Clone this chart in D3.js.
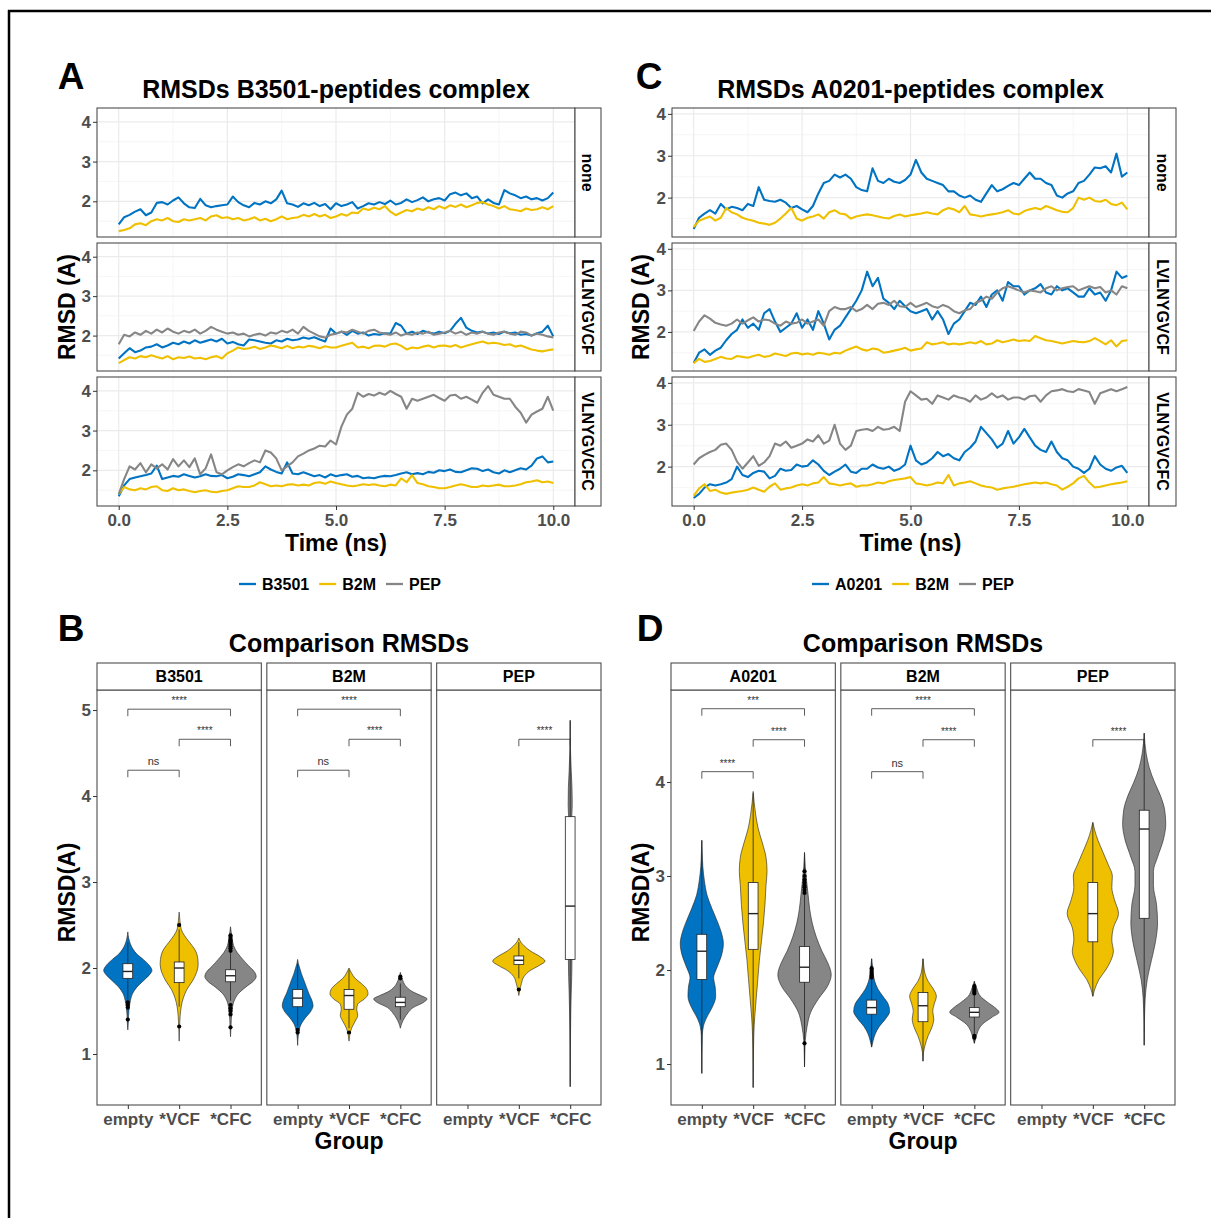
<!DOCTYPE html>
<html><head><meta charset="utf-8">
<script src="https://cdn.jsdelivr.net/npm/d3@7"></script>
<style>body{margin:0;background:#fff}svg{display:block}</style>
</head><body><script>
// ---------------- DATA ----------------
const timeTicks = [0, 2.5, 5, 7.5, 10];
const peptideFacets = ["none", "LVLNYGVCF", "VLNYGVCFC"];
const seriesA = ["B3501", "B2M", "PEP"];
const seriesC = ["A0201", "B2M", "PEP"];
const lineYTicks = [2, 3, 4];

// RMSD time series, 0..10 ns evenly spaced (0.125 ns)
const A_none_B3501 = [1.42,1.60,1.66,1.74,1.80,1.65,1.72,1.96, 1.98,1.92,2.02,2.10,1.95,1.85,1.83,2.06, 1.90,1.85,1.88,1.90,1.92,2.12,1.98,1.90, 1.85,1.96,1.92,2.00,1.95,2.05,2.27,1.95, 1.92,1.86,1.95,1.90,1.96,1.88,1.93,1.80, 1.95,1.88,1.92,1.98,1.82,1.88,1.95,1.92, 1.98,1.93,2.02,1.92,1.96,2.05,1.98,2.03, 2.10,2.00,2.05,2.08,2.02,2.18,2.22,2.15, 2.20,2.08,2.12,1.95,2.05,1.96,1.92,2.28, 2.20,2.15,2.08,2.12,2.05,2.08,2.02,2.08, 2.22];
const A_none_B2M = [1.25,1.28,1.32,1.42,1.45,1.40,1.50,1.55, 1.52,1.58,1.50,1.48,1.55,1.52,1.55,1.58, 1.52,1.62,1.65,1.58,1.60,1.55,1.58,1.52, 1.55,1.60,1.52,1.56,1.50,1.55,1.62,1.55, 1.58,1.60,1.66,1.62,1.68,1.62,1.66,1.58, 1.62,1.68,1.64,1.72,1.70,1.82,1.78,1.84, 1.80,1.88,1.74,1.65,1.72,1.78,1.75,1.82, 1.78,1.85,1.80,1.88,1.82,1.90,1.86,1.92, 1.85,1.90,1.96,1.98,1.92,1.88,1.82,1.88, 1.80,1.78,1.75,1.82,1.78,1.80,1.85,1.80, 1.88];
const A_lv_B3501 = [1.42,1.55,1.68,1.58,1.62,1.70,1.72,1.78, 1.70,1.75,1.82,1.78,1.85,1.80,1.88,1.82, 1.86,1.90,1.85,1.92,1.80,1.84,1.78,1.75, 1.90,1.88,1.85,1.82,1.80,1.88,1.85,1.92, 1.88,1.90,1.95,1.92,1.96,1.90,1.85,2.18, 2.05,2.10,2.02,2.12,2.05,2.08,2.00,2.04, 2.02,2.06,2.05,2.32,2.25,2.05,2.10,2.04, 2.12,2.08,2.05,2.10,2.06,2.12,2.30,2.45, 2.20,2.12,2.08,2.10,2.05,2.08,2.04,2.10, 2.06,2.08,2.02,2.04,2.00,2.06,2.10,2.25, 1.98];
const A_lv_B2M = [1.30,1.38,1.45,1.42,1.48,1.45,1.50,1.46, 1.42,1.48,1.40,1.45,1.43,1.47,1.42,1.44, 1.40,1.45,1.48,1.42,1.55,1.62,1.70,1.66, 1.68,1.72,1.66,1.70,1.75,1.72,1.68,1.74, 1.68,1.72,1.70,1.74,1.72,1.68,1.73,1.70, 1.70,1.74,1.78,1.82,1.70,1.72,1.68,1.74, 1.75,1.72,1.78,1.80,1.74,1.65,1.70,1.68, 1.72,1.75,1.70,1.74,1.75,1.72,1.76,1.70, 1.74,1.78,1.82,1.85,1.80,1.82,1.80,1.76, 1.78,1.72,1.75,1.70,1.65,1.62,1.60,1.63, 1.65];
const A_lv_PEP = [1.78,2.02,1.98,2.08,2.02,2.12,2.05,2.15, 2.08,2.18,2.10,2.05,2.12,2.08,2.15,2.05, 2.12,2.22,2.15,2.10,2.05,2.08,2.02,2.05, 1.98,2.02,2.05,2.00,2.08,2.05,2.12,2.08, 2.15,2.05,2.22,2.12,2.05,1.98,1.95,2.02, 2.05,2.10,2.08,2.15,2.10,2.05,2.12,2.15, 2.08,2.05,2.02,2.08,2.00,2.05,2.02,2.08, 2.05,2.10,2.02,2.05,2.08,2.12,2.05,2.10, 2.02,2.08,2.05,2.10,2.05,2.02,2.08,2.10, 2.05,2.02,2.10,2.08,2.00,2.05,2.02,1.98, 1.95];
const A_vl_B3501 = [1.35,1.62,1.78,1.82,1.85,1.88,1.92,2.12, 1.78,1.82,1.86,1.84,1.90,1.86,1.82,1.85, 1.90,1.86,1.85,1.88,1.80,1.84,1.90,1.88, 1.85,1.90,1.95,2.10,2.02,1.96,1.92,2.20, 1.92,1.90,1.95,1.90,1.85,1.88,1.82,1.90, 1.85,1.88,1.90,1.84,1.86,1.80,1.82,1.80, 1.84,1.86,1.85,1.88,1.92,1.95,1.90,1.93, 1.90,1.96,1.94,2.00,1.98,2.02,1.96,1.95, 2.00,2.05,2.04,1.98,2.02,1.95,1.92,2.00, 1.95,2.00,2.05,2.02,2.12,2.30,2.35,2.20, 2.22];
const A_vl_B2M = [1.40,1.58,1.52,1.50,1.55,1.52,1.58,1.60, 1.50,1.48,1.55,1.50,1.52,1.48,1.45,1.48, 1.50,1.46,1.45,1.48,1.50,1.55,1.60,1.58, 1.58,1.62,1.70,1.65,1.60,1.62,1.60,1.64, 1.65,1.62,1.64,1.62,1.68,1.70,1.66,1.72, 1.68,1.65,1.62,1.60,1.62,1.65,1.63,1.65, 1.62,1.60,1.64,1.62,1.80,1.70,1.88,1.68, 1.65,1.60,1.58,1.55,1.55,1.58,1.62,1.65, 1.62,1.58,1.58,1.62,1.60,1.62,1.64,1.60, 1.60,1.62,1.65,1.70,1.72,1.75,1.70,1.72, 1.68];
const A_vl_PEP = [1.40,1.78,2.10,2.02,2.18,1.95,2.15,2.05, 2.15,2.02,2.28,2.10,2.25,2.08,2.30,1.90, 2.05,2.40,1.95,1.90,2.00,2.08,2.15,2.10, 2.18,2.25,2.20,2.50,2.45,2.30,2.00,2.10, 2.20,2.35,2.42,2.50,2.55,2.62,2.60,2.75, 2.65,3.10,3.40,3.55,3.95,3.85,3.92,3.88, 3.95,3.90,4.00,3.92,3.85,3.55,3.80,3.75, 3.80,3.85,3.90,3.82,3.75,3.88,3.90,3.80, 3.85,3.78,3.70,3.95,4.12,3.90,3.85,3.80, 3.80,3.60,3.45,3.20,3.40,3.48,3.55,3.85, 3.50];

const C_none_A0201 = [1.25,1.52,1.62,1.70,1.62,1.85,1.72,1.78, 1.75,1.70,1.85,1.80,2.25,1.95,1.92,1.90, 1.95,1.88,1.75,1.80,1.72,1.65,1.80,2.10, 2.35,2.40,2.55,2.48,2.55,2.45,2.25,2.18, 2.15,2.70,2.40,2.35,2.45,2.38,2.35,2.42, 2.55,2.90,2.60,2.45,2.40,2.35,2.30,2.15, 2.15,2.05,2.00,2.05,1.95,1.90,2.10,2.30, 2.15,2.20,2.28,2.35,2.30,2.45,2.60,2.45, 2.45,2.35,2.30,2.05,2.00,2.10,2.15,2.35, 2.40,2.55,2.72,2.70,2.75,2.60,3.05,2.50, 2.60];
const C_none_B2M = [1.30,1.45,1.50,1.55,1.45,1.52,1.75,1.65, 1.60,1.52,1.48,1.45,1.40,1.38,1.35,1.40, 1.50,1.62,1.75,1.50,1.45,1.52,1.55,1.60, 1.50,1.65,1.70,1.62,1.60,1.50,1.55,1.58, 1.60,1.58,1.55,1.52,1.50,1.56,1.60,1.55, 1.58,1.60,1.62,1.65,1.62,1.60,1.70,1.75, 1.72,1.65,1.80,1.60,1.58,1.55,1.58,1.60, 1.62,1.65,1.70,1.62,1.60,1.68,1.72,1.75, 1.72,1.80,1.75,1.70,1.66,1.65,1.75,2.00, 1.95,2.00,1.92,1.90,1.95,1.85,1.82,1.88, 1.72];
const C_lv_A0201 = [1.25,1.50,1.58,1.45,1.55,1.62,1.80,1.95, 2.05,2.30,2.10,2.20,2.05,2.45,2.55,2.25, 2.00,2.10,2.20,2.45,2.10,2.30,2.05,2.50, 2.20,1.82,2.05,2.15,2.35,2.55,2.75,3.00, 3.45,3.10,3.30,2.80,2.70,2.55,2.75,2.62, 2.50,2.45,2.50,2.55,2.30,2.50,2.30,1.95, 2.20,2.30,2.50,2.70,2.65,2.85,2.60,2.90, 3.00,2.75,3.20,3.10,3.10,2.90,3.00,3.05, 3.15,2.95,2.90,3.10,3.00,3.05,2.95,2.85, 2.85,3.05,2.90,2.95,2.75,3.00,3.45,3.30, 3.35];
const C_lv_B2M = [1.25,1.35,1.28,1.30,1.35,1.40,1.36,1.35, 1.42,1.40,1.38,1.42,1.45,1.40,1.42,1.48, 1.45,1.42,1.48,1.50,1.46,1.48,1.45,1.50, 1.48,1.45,1.50,1.48,1.55,1.60,1.65,1.58, 1.55,1.60,1.58,1.50,1.52,1.55,1.58,1.62, 1.55,1.58,1.60,1.75,1.70,1.72,1.75,1.70, 1.72,1.70,1.72,1.75,1.72,1.78,1.70,1.72, 1.80,1.75,1.78,1.82,1.78,1.80,1.78,1.90, 1.85,1.80,1.78,1.75,1.72,1.75,1.78,1.76, 1.75,1.78,1.85,1.78,1.70,1.80,1.65,1.78, 1.80];
const C_lv_PEP = [2.02,2.25,2.40,2.32,2.22,2.18,2.15,2.20, 2.30,2.20,2.28,2.35,2.25,2.30,2.28,2.20, 2.15,2.25,2.20,2.22,2.30,2.20,2.25,2.30, 2.15,2.50,2.60,2.55,2.55,2.60,2.50,2.55, 2.65,2.55,2.68,2.70,2.65,2.75,2.62,2.60, 2.70,2.60,2.65,2.70,2.62,2.58,2.65,2.60, 2.50,2.45,2.52,2.55,2.70,2.75,2.85,2.80, 2.95,3.05,3.10,3.05,3.00,2.95,3.00,2.98, 2.95,3.05,3.10,3.00,3.05,3.08,3.10,3.00, 3.05,3.10,3.05,3.08,2.95,3.00,2.90,3.10, 3.05];
const C_vl_A0201 = [1.25,1.35,1.50,1.58,1.55,1.58,1.62,1.70, 2.00,1.80,1.75,1.85,1.90,1.88,1.72,1.78, 1.95,1.90,1.92,2.05,2.00,2.02,2.15,2.05, 1.90,1.80,1.88,1.95,2.05,1.88,1.85,1.95, 1.95,2.05,1.98,1.95,2.00,1.90,1.95,2.05, 2.50,2.15,2.05,2.10,2.20,2.35,2.25,2.30, 2.20,2.15,2.35,2.45,2.60,2.95,2.80,2.65, 2.45,2.55,2.85,2.55,2.70,2.90,2.70,2.50, 2.40,2.35,2.60,2.35,2.20,2.15,2.00,1.95, 1.85,1.95,2.25,2.05,1.95,1.90,1.98,2.02, 1.85];
const C_vl_B2M = [1.30,1.48,1.58,1.42,1.45,1.38,1.35,1.38, 1.40,1.42,1.45,1.50,1.45,1.40,1.52,1.60, 1.45,1.48,1.50,1.55,1.58,1.55,1.60,1.62, 1.75,1.60,1.58,1.55,1.58,1.60,1.52,1.55, 1.55,1.58,1.62,1.60,1.65,1.68,1.70,1.72, 1.75,1.60,1.58,1.55,1.58,1.62,1.60,1.80, 1.55,1.60,1.62,1.65,1.60,1.55,1.52,1.50, 1.45,1.48,1.50,1.52,1.55,1.58,1.60,1.62, 1.60,1.62,1.58,1.55,1.45,1.52,1.60,1.72, 1.78,1.62,1.50,1.52,1.55,1.58,1.60,1.62, 1.65];
const C_vl_PEP = [2.05,2.20,2.28,2.35,2.40,2.52,2.55,2.40, 2.12,1.95,2.10,2.25,2.02,2.10,2.25,2.55, 2.50,2.60,2.45,2.50,2.55,2.65,2.60,2.75, 2.55,2.62,3.00,2.55,2.40,2.50,2.85,2.88, 2.90,2.85,2.95,2.88,2.90,2.95,2.85,3.55, 3.80,3.70,3.60,3.62,3.50,3.70,3.65,3.60, 3.70,3.65,3.62,3.55,3.70,3.60,3.65,3.75, 3.65,3.70,3.60,3.65,3.65,3.60,3.68,3.70, 3.55,3.70,3.80,3.82,3.85,3.80,3.78,3.85, 3.82,3.78,3.50,3.75,3.80,3.85,3.80,3.85, 3.90];

// Violin comparisons
const groups = ["empty", "*VCF", "*CFC"];
const compFacetsB = ["B3501", "B2M", "PEP"];
const compFacetsD = ["A0201", "B2M", "PEP"];
const compYTicksB = [1, 2, 3, 4, 5];
const compYTicksD = [1, 2, 3, 4];
// density profiles: [RMSD, half width (in group steps)]; box: [lower whisker, q1, median, q3, upper whisker]
const vB_B3501_empty = [[1.28,0],[1.35,0.008],[1.45,0.015],[1.55,0.03],[1.62,0.05],[1.7,0.09],[1.78,0.18],[1.85,0.3],[1.92,0.42],[1.97,0.47],[2.03,0.42],[2.1,0.3],[2.16,0.18],[2.22,0.1],[2.28,0.05],[2.34,0.02],[2.42,0]];
const bB_B3501_empty = [1.63,1.88,1.96,2.05,2.30];
const oB_B3501_empty = [1.60,1.57,1.54,1.40];
const vB_B3501_vcf = [[1.15,0],[1.3,0.008],[1.45,0.02],[1.55,0.04],[1.65,0.08],[1.75,0.15],[1.85,0.26],[1.95,0.34],[2.05,0.37],[2.15,0.35],[2.22,0.3],[2.3,0.2],[2.38,0.1],[2.45,0.04],[2.55,0.015],[2.65,0]];
const bB_B3501_vcf = [1.55,1.83,2.00,2.07,2.45];
const oB_B3501_vcf = [2.50,1.32];
const vB_B3501_cfc = [[1.2,0],[1.3,0.008],[1.4,0.015],[1.5,0.03],[1.6,0.06],[1.7,0.15],[1.78,0.3],[1.85,0.45],[1.9,0.5],[1.96,0.46],[2.02,0.36],[2.1,0.24],[2.18,0.13],[2.26,0.06],[2.35,0.03],[2.48,0]];
const bB_B3501_cfc = [1.62,1.84,1.91,1.98,2.18];
const oB_B3501_cfc = [2.20,2.23,2.25,2.27,2.29,2.31,2.33,2.36,2.38,1.57,1.53,1.50,1.46,1.31];
const vB_B2M_empty = [[1.1,0],[1.2,0.01],[1.28,0.03],[1.35,0.07],[1.42,0.15],[1.5,0.26],[1.56,0.3],[1.62,0.28],[1.7,0.22],[1.78,0.17],[1.86,0.12],[1.94,0.07],[2.0,0.04],[2.05,0.015],[2.1,0]];
const bB_B2M_empty = [1.32,1.55,1.65,1.75,2.05];
const oB_B2M_empty = [1.28,1.25];
const vB_B2M_vcf = [[1.15,0],[1.22,0.015],[1.3,0.05],[1.38,0.12],[1.45,0.17],[1.52,0.15],[1.58,0.17],[1.64,0.3],[1.7,0.37],[1.76,0.34],[1.82,0.24],[1.88,0.12],[1.94,0.05],[2.0,0]];
const bB_B2M_vcf = [1.30,1.52,1.68,1.75,1.98];
const oB_B2M_vcf = [1.25];
const vB_B2M_cfc = [[1.3,0],[1.36,0.03],[1.42,0.08],[1.48,0.15],[1.54,0.25],[1.6,0.45],[1.64,0.52],[1.68,0.4],[1.72,0.25],[1.78,0.12],[1.85,0.05],[1.95,0]];
const bB_B2M_cfc = [1.40,1.55,1.60,1.66,1.82];
const oB_B2M_cfc = [1.90,1.88];
const vB_PEP_vcf = [[1.68,0],[1.75,0.02],[1.82,0.05],[1.9,0.1],[1.97,0.22],[2.03,0.4],[2.08,0.51],[2.13,0.42],[2.2,0.22],[2.26,0.1],[2.3,0.04],[2.35,0]];
const bB_PEP_vcf = [1.88,2.04,2.09,2.14,2.30];
const oB_PEP_vcf = [1.75];
const vB_PEP_cfc = [[0.62,0],[1.0,0.003],[1.2,0.006],[1.5,0.012],[1.7,0.02],[1.9,0.03],[2.1,0.035],[2.3,0.02],[2.6,0.01],[3.0,0.008],[3.4,0.01],[3.7,0.025],[3.9,0.04],[4.1,0.035],[4.3,0.02],[4.5,0.008],[4.6,0.003],[4.88,0]];
const bB_PEP_cfc = [0.62,2.10,2.72,3.76,4.88];
const oB_PEP_cfc = [];

const vD_A0201_empty = [[0.9,0],[1.1,0.004],[1.3,0.01],[1.4,0.03],[1.5,0.1],[1.6,0.2],[1.72,0.27],[1.82,0.26],[1.92,0.23],[2.02,0.29],[2.15,0.38],[2.28,0.42],[2.4,0.38],[2.52,0.3],[2.65,0.2],[2.8,0.1],[2.95,0.05],[3.1,0.02],[3.25,0.008],[3.38,0]];
const bD_A0201_empty = [0.90,1.90,2.20,2.38,3.38];
const oD_A0201_empty = [];
const vD_A0201_vcf = [[0.75,0],[1.0,0.004],[1.3,0.012],[1.5,0.03],[1.7,0.06],[1.9,0.09],[2.1,0.12],[2.3,0.16],[2.5,0.2],[2.7,0.23],[2.9,0.25],[3.05,0.27],[3.2,0.25],[3.35,0.18],[3.5,0.1],[3.65,0.05],[3.78,0.02],[3.9,0]];
const bD_A0201_vcf = [0.75,2.22,2.60,2.93,3.88];
const oD_A0201_vcf = [];
const vD_A0201_cfc = [[0.97,0],[1.1,0.005],[1.25,0.015],[1.4,0.05],[1.55,0.12],[1.7,0.28],[1.82,0.44],[1.95,0.52],[2.08,0.45],[2.2,0.34],[2.35,0.23],[2.5,0.15],[2.65,0.1],[2.8,0.07],[2.95,0.04],[3.1,0.015],[3.25,0]];
const bD_A0201_cfc = [0.97,1.87,2.03,2.25,3.25];
const oD_A0201_cfc = [2.82,2.85,2.88,2.90,2.93,2.96,3.00,3.05,1.22];
const vD_B2M_empty = [[1.18,0],[1.25,0.03],[1.32,0.07],[1.4,0.15],[1.48,0.27],[1.56,0.35],[1.64,0.32],[1.72,0.22],[1.8,0.12],[1.88,0.06],[1.96,0.03],[2.04,0.015],[2.12,0]];
const bD_B2M_empty = [1.18,1.53,1.60,1.68,2.12];
const oD_B2M_empty = [1.92,1.94,1.96,1.98,2.00,2.02];
const vD_B2M_vcf = [[1.03,0],[1.12,0.01],[1.2,0.04],[1.3,0.1],[1.4,0.18],[1.48,0.21],[1.56,0.19],[1.64,0.22],[1.72,0.26],[1.8,0.2],[1.88,0.1],[1.96,0.04],[2.04,0.015],[2.12,0]];
const bD_B2M_vcf = [1.03,1.45,1.62,1.76,2.12];
const oD_B2M_vcf = [];
const vD_B2M_cfc = [[1.22,0],[1.28,0.03],[1.35,0.07],[1.42,0.15],[1.5,0.35],[1.55,0.48],[1.6,0.4],[1.66,0.25],[1.72,0.12],[1.8,0.05],[1.88,0]];
const bD_B2M_cfc = [1.22,1.50,1.55,1.60,1.88];
const oD_B2M_cfc = [1.28,1.30,1.75,1.77,1.79,1.81,1.83];
const vD_PEP_vcf = [[1.72,0],[1.8,0.04],[1.9,0.12],[2.0,0.25],[2.1,0.35],[2.2,0.4],[2.32,0.37],[2.45,0.4],[2.6,0.5],[2.75,0.42],[2.88,0.37],[3.0,0.38],[3.12,0.3],[3.25,0.2],[3.38,0.1],[3.48,0.04],[3.57,0]];
const bD_PEP_vcf = [1.72,2.30,2.60,2.93,3.57];
const oD_PEP_vcf = [];
const vD_PEP_cfc = [[1.2,0],[1.45,0.005],[1.7,0.02],[1.9,0.06],[2.1,0.14],[2.3,0.22],[2.5,0.26],[2.7,0.24],[2.9,0.18],[3.05,0.18],[3.2,0.26],[3.4,0.38],[3.55,0.42],[3.7,0.4],[3.85,0.32],[4.0,0.2],[4.15,0.1],[4.3,0.04],[4.52,0]];
const bD_PEP_cfc = [1.20,2.55,3.50,3.70,4.52];
const oD_PEP_cfc = [];

// significance brackets: [group i, group j, y position, label]
const bracketsB_B3501 = [[0,2,5.01,"****"],[1,2,4.66,"****"],[0,1,4.30,"ns"]];
const bracketsB_B2M = [[0,2,5.01,"****"],[1,2,4.66,"****"],[0,1,4.30,"ns"]];
const bracketsB_PEP = [[1,2,4.66,"****"]];
const bracketsD_A0201 = [[0,2,4.78,"***"],[1,2,4.45,"****"],[0,1,4.11,"****"]];
const bracketsD_B2M = [[0,2,4.78,"****"],[1,2,4.45,"****"],[0,1,4.11,"ns"]];
const bracketsD_PEP = [[1,2,4.45,"****"]];

// ---------------- DRAWING ----------------
const FONT = '"Liberation Sans", Arial, Helvetica, sans-serif';
const COLORS = ["#0073C2", "#EFC000", "#868686"];
const TICKGREY = "#4D4D4D";
const BORDER = "#4D4D4D";

const svg = d3.select("body").append("svg").attr("width", 1211).attr("height", 1218)
  .style("font-family", FONT);
svg.append("rect").attr("width", 1211).attr("height", 1218).attr("fill", "#fff");
svg.append("line").attr("x1", 8).attr("x2", 1211).attr("y1", 11).attr("y2", 11).attr("stroke", "#000").attr("stroke-width", 2.5);
svg.append("line").attr("x1", 9).attr("x2", 9).attr("y1", 10).attr("y2", 1218).attr("stroke", "#000").attr("stroke-width", 2.5);

function txt(g, x, y, s, size, opts = {}) {
  const t = g.append("text").attr("x", x).attr("y", y).text(s)
    .attr("font-size", size).attr("font-weight", opts.weight || "bold")
    .attr("fill", opts.fill || "#000").attr("text-anchor", opts.anchor || "middle");
  if (opts.rotate) t.attr("transform", `rotate(${opts.rotate},${x},${y})`);
  if (opts.dy) t.attr("dy", opts.dy);
  return t;
}
function styleAxis(a, size) {
  a.attr("font-family", FONT);
  a.select(".domain").remove();
  a.selectAll(".tick line").attr("stroke", "#333").attr("stroke-width", 1);
  a.selectAll(".tick text").attr("fill", TICKGREY).attr("font-size", size).attr("font-weight", "bold");
}

function linePanel(o) {
  const g = svg.append("g");
  const x = d3.scaleLinear().domain([-0.5, 10.5]).range([o.left, o.right]);
  const minorX = d3.pairs(timeTicks).map(p => (p[0] + p[1]) / 2);
  const minorY = d3.pairs([1].concat(lineYTicks)).map(p => (p[0] + p[1]) / 2);
  o.rows.forEach((r, i) => {
    const y = d3.scaleLinear().domain(o.yDomain).range([r[1], r[0]]);
    const pg = g.append("g");
    pg.selectAll(".mx").data(minorX).join("line").attr("x1", d => x(d)).attr("x2", d => x(d)).attr("y1", r[0]).attr("y2", r[1]).attr("stroke", "#F2F2F2").attr("stroke-width", 0.7);
    pg.selectAll(".my").data(minorY).join("line").attr("y1", d => y(d)).attr("y2", d => y(d)).attr("x1", o.left).attr("x2", o.right).attr("stroke", "#F2F2F2").attr("stroke-width", 0.7);
    pg.selectAll(".Mx").data(timeTicks).join("line").attr("x1", d => x(d)).attr("x2", d => x(d)).attr("y1", r[0]).attr("y2", r[1]).attr("stroke", "#EBEBEB").attr("stroke-width", 1.2);
    pg.selectAll(".My").data(lineYTicks).join("line").attr("y1", d => y(d)).attr("y2", d => y(d)).attr("x1", o.left).attr("x2", o.right).attr("stroke", "#EBEBEB").attr("stroke-width", 1.2);
    const line = d3.line().x((d, k, arr) => x(k * 10 / (arr.length - 1))).y(d => y(d));
    o.series.forEach((s, si) => {
      const vals = o.data[i][si];
      if (!vals) return;
      pg.append("path").attr("d", line(vals)).attr("fill", "none").attr("stroke", COLORS[si])
        .attr("stroke-width", 2.1).attr("stroke-linejoin", "round");
    });
    pg.append("rect").attr("x", o.left).attr("y", r[0]).attr("width", o.right - o.left).attr("height", r[1] - r[0])
      .attr("fill", "none").attr("stroke", BORDER).attr("stroke-width", 1.1);
    pg.append("rect").attr("x", o.right).attr("y", r[0]).attr("width", o.strip - o.right).attr("height", r[1] - r[0])
      .attr("fill", "#fff").attr("stroke", BORDER).attr("stroke-width", 1.1);
    txt(pg, (o.right + o.strip) / 2, (r[0] + r[1]) / 2, peptideFacets[i], 16, { rotate: 90, dy: "0.35em" });
    const ay = pg.append("g").attr("transform", `translate(${o.left},0)`)
      .call(d3.axisLeft(y).tickValues(lineYTicks).tickFormat(d3.format("d")).tickSize(4).tickPadding(2));
    styleAxis(ay, 17);
  });
  const last = o.rows[o.rows.length - 1];
  const ax = g.append("g").attr("transform", `translate(0,${last[1]})`)
    .call(d3.axisBottom(x).tickValues(timeTicks).tickFormat(d3.format(".1f")).tickSize(4).tickPadding(4));
  styleAxis(ax, 17);
  const cx = (o.left + o.right) / 2;
  txt(g, cx, 98, o.title, 25);
  txt(g, o.letterX, 89, o.letter, 37);
  txt(g, cx, 551, "Time (ns)", 23);
  txt(g, o.ylabX, (o.rows[0][0] + last[1]) / 2, "RMSD (A)", 23, { rotate: -90 });
  // legend
  const lg = g.append("g");
  let cur = 0;
  const items = o.series.map((s, si) => {
    const it = lg.append("g");
    it.append("line").attr("x1", 0).attr("x2", 17).attr("y1", 0).attr("y2", 0).attr("stroke", COLORS[si]).attr("stroke-width", 2.3);
    const t = txt(it, 23, 6, s, 16, { anchor: "start" });
    const w = 23 + t.node().getComputedTextLength();
    it.attr("data-x", cur);
    it.attr("transform", `translate(${cur},0)`);
    cur += w + 10;
    return it;
  });
  const total = cur - 10;
  lg.attr("transform", `translate(${o.legendCX - total / 2},${584})`);
}

linePanel({
  left: 97, right: 575, strip: 601, rows: [[108, 237], [243, 371], [377, 506]],
  yDomain: [1.1025, 4.3475], title: "RMSDs B3501-peptides complex", letter: "A", letterX: 71, ylabX: 75,
  legendCX: 340, series: seriesA,
  data: [[A_none_B3501, A_none_B2M, null], [A_lv_B3501, A_lv_B2M, A_lv_PEP], [A_vl_B3501, A_vl_B2M, A_vl_PEP]]
});
linePanel({
  left: 672, right: 1149, strip: 1176, rows: [[108, 237], [243, 371], [377, 506]],
  yDomain: [1.06, 4.14], title: "RMSDs A0201-peptides complex", letter: "C", letterX: 649, ylabX: 649,
  legendCX: 913, series: seriesC,
  data: [[C_none_A0201, C_none_B2M, null], [C_lv_A0201, C_lv_B2M, C_lv_PEP], [C_vl_A0201, C_vl_B2M, C_vl_PEP]]
});

function violinPanel(o) {
  const g = svg.append("g");
  const gap = 5.5;
  const fw = (o.right - o.left - 2 * gap) / 3;
  const y = d3.scaleLinear().domain(o.yDomain).range([o.bottom, o.top]);
  o.facets.forEach((fname, fi) => {
    const fx = o.left + fi * (fw + gap);
    const xs = d3.scalePoint().domain(groups).range([fx, fx + fw]).padding(0.6);
    const step = xs.step();
    const pg = g.append("g");
    pg.append("rect").attr("x", fx).attr("y", o.top).attr("width", fw).attr("height", o.bottom - o.top).attr("fill", "#fff");
    o.violins[fi].forEach((v, gi) => {
      if (!v) return;
      const cx = xs(groups[gi]);
      const area = d3.area().curve(d3.curveMonotoneY)
        .x0(d => cx - d[1] * step).x1(d => cx + d[1] * step).y(d => y(d[0]));
      pg.append("path").attr("d", area(v.p)).attr("fill", COLORS[gi]).attr("stroke", "#222").attr("stroke-width", 0.6);
      const b = v.b;
      const bw = 0.19 * step;
      pg.append("line").attr("x1", cx).attr("x2", cx).attr("y1", y(b[0])).attr("y2", y(b[4])).attr("stroke", "#222").attr("stroke-width", 0.8);
      pg.append("rect").attr("x", cx - bw / 2).attr("width", bw).attr("y", y(b[3])).attr("height", y(b[1]) - y(b[3]))
        .attr("fill", "#fff").attr("stroke", "#222").attr("stroke-width", 0.8);
      pg.append("line").attr("x1", cx - bw / 2).attr("x2", cx + bw / 2).attr("y1", y(b[2])).attr("y2", y(b[2])).attr("stroke", "#222").attr("stroke-width", 1.4);
      pg.selectAll(null).data(v.o).join("circle").attr("cx", cx).attr("cy", d => y(d)).attr("r", 2.1).attr("fill", "#000");
    });
    o.brackets[fi].forEach(bk => {
      const x1 = xs(groups[bk[0]]), x2 = xs(groups[bk[1]]), yy = y(bk[2]);
      pg.append("path").attr("d", `M${x1},${yy + 7}V${yy}H${x2}V${yy + 7}`).attr("fill", "none").attr("stroke", "#333").attr("stroke-width", 0.8);
      txt(pg, (x1 + x2) / 2, yy - 5, bk[3], bk[3] === "ns" ? 11 : 10, { weight: "normal", fill: "#333" });
    });
    pg.append("rect").attr("x", fx).attr("y", o.top).attr("width", fw).attr("height", o.bottom - o.top)
      .attr("fill", "none").attr("stroke", BORDER).attr("stroke-width", 1.1);
    pg.append("rect").attr("x", fx).attr("y", o.stripTop).attr("width", fw).attr("height", o.top - o.stripTop)
      .attr("fill", "#fff").attr("stroke", BORDER).attr("stroke-width", 1.1);
    txt(pg, fx + fw / 2, (o.stripTop + o.top) / 2, fname, 16, { dy: "0.36em" });
    const ax = pg.append("g").attr("transform", `translate(0,${o.bottom})`)
      .call(d3.axisBottom(xs).tickSize(4).tickPadding(4));
    styleAxis(ax, 17);
    if (fi === 0) {
      const ay = pg.append("g").attr("transform", `translate(${fx},0)`)
        .call(d3.axisLeft(y).tickValues(o.yTicks).tickFormat(d3.format("d")).tickSize(4).tickPadding(2));
      styleAxis(ay, 17);
    }
  });
  const cx = (o.left + o.right) / 2;
  txt(g, cx, 652, "Comparison RMSDs", 25);
  txt(g, o.letterX, 641, o.letter, 37);
  txt(g, cx, 1149, "Group", 23);
  txt(g, o.ylabX, (o.top + o.bottom) / 2 - 5, "RMSD(A)", 23, { rotate: -90 });
}

violinPanel({
  left: 97, right: 601, stripTop: 663, top: 690, bottom: 1105, yDomain: [0.407, 5.233], yTicks: compYTicksB,
  letter: "B", letterX: 71, ylabX: 75, facets: compFacetsB,
  violins: [
    [{ p: vB_B3501_empty, b: bB_B3501_empty, o: oB_B3501_empty }, { p: vB_B3501_vcf, b: bB_B3501_vcf, o: oB_B3501_vcf }, { p: vB_B3501_cfc, b: bB_B3501_cfc, o: oB_B3501_cfc }],
    [{ p: vB_B2M_empty, b: bB_B2M_empty, o: oB_B2M_empty }, { p: vB_B2M_vcf, b: bB_B2M_vcf, o: oB_B2M_vcf }, { p: vB_B2M_cfc, b: bB_B2M_cfc, o: oB_B2M_cfc }],
    [null, { p: vB_PEP_vcf, b: bB_PEP_vcf, o: oB_PEP_vcf }, { p: vB_PEP_cfc, b: bB_PEP_cfc, o: oB_PEP_cfc }]
  ],
  brackets: [bracketsB_B3501, bracketsB_B2M, bracketsB_PEP]
});
violinPanel({
  left: 671, right: 1175, stripTop: 663, top: 690, bottom: 1105, yDomain: [0.564, 4.979], yTicks: compYTicksD,
  letter: "D", letterX: 650, ylabX: 649, facets: compFacetsD,
  violins: [
    [{ p: vD_A0201_empty, b: bD_A0201_empty, o: oD_A0201_empty }, { p: vD_A0201_vcf, b: bD_A0201_vcf, o: oD_A0201_vcf }, { p: vD_A0201_cfc, b: bD_A0201_cfc, o: oD_A0201_cfc }],
    [{ p: vD_B2M_empty, b: bD_B2M_empty, o: oD_B2M_empty }, { p: vD_B2M_vcf, b: bD_B2M_vcf, o: oD_B2M_vcf }, { p: vD_B2M_cfc, b: bD_B2M_cfc, o: oD_B2M_cfc }],
    [null, { p: vD_PEP_vcf, b: bD_PEP_vcf, o: oD_PEP_vcf }, { p: vD_PEP_cfc, b: bD_PEP_cfc, o: oD_PEP_cfc }]
  ],
  brackets: [bracketsD_A0201, bracketsD_B2M, bracketsD_PEP]
});
</script></body></html>
